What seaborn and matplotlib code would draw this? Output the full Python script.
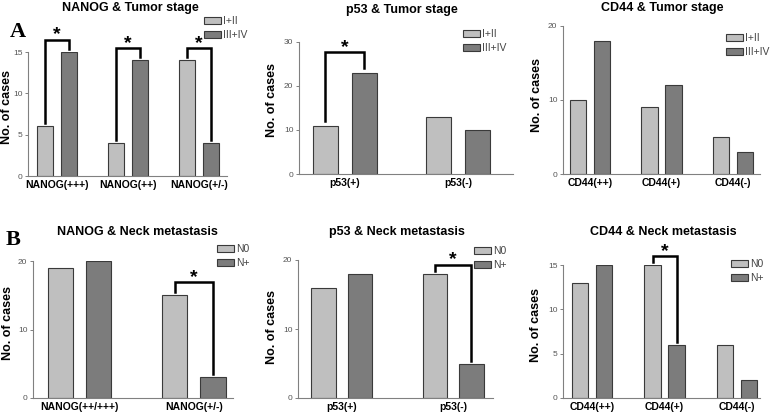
import matplotlib
matplotlib.use("Agg")
import matplotlib.pyplot as plt
from matplotlib.patches import Patch
import seaborn as sns
import pandas as pd

# ---------------- data ----------------
nanog_stage_cats = ["NANOG(+++)", "NANOG(++)", "NANOG(+/-)"]
nanog_stage_early = [6, 4, 14]
nanog_stage_late = [15, 14, 4]

p53_stage_cats = ["p53(+)", "p53(-)"]
p53_stage_early = [11, 13]
p53_stage_late = [23, 10]

cd44_stage_cats = ["CD44(++)", "CD44(+)", "CD44(-)"]
cd44_stage_early = [10, 9, 5]
cd44_stage_late = [18, 12, 3]

nanog_neck_cats = ["NANOG(++/+++)", "NANOG(+/-)"]
nanog_neck_n0 = [19, 15]
nanog_neck_np = [20, 3]

p53_neck_cats = ["p53(+)", "p53(-)"]
p53_neck_n0 = [16, 18]
p53_neck_np = [18, 5]

cd44_neck_cats = ["CD44(++)", "CD44(+)", "CD44(-)"]
cd44_neck_n0 = [13, 15, 6]
cd44_neck_np = [15, 6, 2]

stage_labels = ["I+II", "III+IV"]
neck_labels = ["N0", "N+"]

titles = ["NANOG & Tumor stage", "p53 & Tumor stage", "CD44 & Tumor stage",
          "NANOG & Neck metastasis", "p53 & Neck metastasis", "CD44 & Neck metastasis"]
y_tick_sets = [[0, 5, 10, 15], [0, 10, 20, 30], [0, 10, 20],
               [0, 10, 20], [0, 10, 20], [0, 5, 10, 15]]
significant = [[0, 1, 2], [0], [], [1], [1], [1]]
ylabel = "No. of cases"

# ---------------- style ----------------
W, H = 778, 417
LIGHT, DARK, EDGE = "#bfbfbf", "#7c7c7c", "#3a3a3a"
AXCOL = "#808080"
FONT = ["Liberation Sans", "DejaVu Sans"]
plt.rcParams["font.family"] = FONT

fig = plt.figure(figsize=(W / 100, H / 100), dpi=100)

def px_axes(l, r, t, b):
    return fig.add_axes([l / W, 1 - b / H, (r - l) / W, (b - t) / H])

panels = [
    dict(cats=nanog_stage_cats, a=nanog_stage_early, b=nanog_stage_late, leg=stage_labels,
         box=(28, 227, 52, 176), xlim=(-0.408, 2.394), width=0.676, gap=0.333,
         rise=1.45, drop=0.4, title=(130, 7.5), ylab=(7, 107), legpos=(204, 16)),
    dict(cats=p53_stage_cats, a=p53_stage_early, b=p53_stage_late, leg=stage_labels,
         box=(299, 513, 42, 174), xlim=(-0.407, 1.487), width=0.69, gap=0.36,
         rise=4.7, drop=1.0, title=(402, 10), ylab=(272, 100), legpos=(463, 29)),
    dict(cats=cd44_stage_cats, a=cd44_stage_early, b=cd44_stage_late, leg=stage_labels,
         box=(563, 760, 26, 174), xlim=(-0.378, 2.378), width=0.671, gap=0.31,
         rise=1.5, drop=0.4, title=(662, 8), ylab=(537, 95), legpos=(726, 33)),
    dict(cats=nanog_neck_cats, a=nanog_neck_n0, b=nanog_neck_np, leg=neck_labels,
         box=(33, 233, 261, 398), xlim=(-0.408, 1.344), width=0.667, gap=0.33,
         rise=1.9, drop=0.45, title=(137, 232), ylab=(8, 323), legpos=(217, 244)),
    dict(cats=p53_neck_cats, a=p53_neck_n0, b=p53_neck_np, leg=neck_labels,
         box=(298, 493, 260, 398), xlim=(-0.396, 1.36), width=0.658, gap=0.33,
         rise=1.3, drop=0.4, title=(397, 232), ylab=(272, 327), legpos=(474, 246)),
    dict(cats=cd44_neck_cats, a=cd44_neck_n0, b=cd44_neck_np, leg=neck_labels,
         box=(563, 760, 265, 398), xlim=(-0.4, 2.317), width=0.662, gap=0.33,
         rise=1.0, drop=0.3, title=(663, 232), ylab=(536, 325), legpos=(731, 259)),
]

for k, p in enumerate(panels):
    ax = px_axes(*p["box"])
    df = pd.DataFrame({
        "cat": p["cats"] * 2,
        "grp": [p["leg"][0]] * len(p["cats"]) + [p["leg"][1]] * len(p["cats"]),
        "val": list(p["a"]) + list(p["b"]),
    })
    sns.barplot(data=df, x="cat", y="val", hue="grp", order=p["cats"],
                hue_order=p["leg"], palette=[LIGHT, DARK], width=p["width"],
                gap=p["gap"], edgecolor=EDGE, linewidth=0.8, legend=False, ax=ax,
                saturation=1)
    ticks = y_tick_sets[k]
    ax.set_ylim(0, ticks[-1])
    ax.set_yticks(ticks)
    ax.set_xlim(*p["xlim"])
    ax.set_xlabel("")
    ax.set_ylabel("")
    for s in ["top", "right"]:
        ax.spines[s].set_visible(False)
    for s in ["left", "bottom"]:
        ax.spines[s].set_color(AXCOL)
        ax.spines[s].set_linewidth(0.8)
    ax.tick_params(axis="y", length=2.5, width=0.7, color=AXCOL, labelsize=6,
                   labelcolor="#555555", pad=1.5)
    ax.tick_params(axis="x", length=0, pad=3, labelsize=7.5)
    for t in ax.get_xticklabels():
        t.set_fontweight("bold")
    ax.set_facecolor("white")

    # significance brackets
    off = p["width"] / 4
    for i in significant[k]:
        va, vb = p["a"][i], p["b"][i]
        level = max(va, vb) + p["rise"]
        ax.plot([i - off, i - off, i + off, i + off],
                [va + p["drop"], level, level, vb + p["drop"]],
                color="black", lw=1.8, clip_on=False, solid_joinstyle="miter")
        ax.annotate("*", (i, level), xytext=(0, -2.5), textcoords="offset points",
                    ha="center", va="bottom", fontsize=14, fontweight="bold",
                    annotation_clip=False)

    # legend
    handles = [Patch(facecolor=LIGHT, edgecolor=EDGE, linewidth=0.8),
               Patch(facecolor=DARK, edgecolor=EDGE, linewidth=0.8)]
    lx, ly = p["legpos"]
    fig.legend(handles, p["leg"], loc="upper left",
               bbox_to_anchor=(lx / W, 1 - ly / H), frameon=False,
               fontsize=7.5, handlelength=1.6, handleheight=0.6,
               handletextpad=0.2, labelspacing=0.4, borderpad=0,
               borderaxespad=0, labelcolor="#444444")

    # title and y label
    tx, ty = p["title"]
    fig.text(tx / W, 1 - ty / H, titles[k], ha="center", va="center",
             fontsize=9, fontweight="bold")
    yx, yy = p["ylab"]
    fig.text(yx / W, 1 - yy / H, ylabel, ha="center", va="center",
             rotation=90, fontsize=9, fontweight="bold")

fig.text(18 / W, 1 - 32 / H, "A", ha="center", va="center", fontsize=16,
         fontweight="bold", family="Liberation Serif")
fig.text(13 / W, 1 - 240 / H, "B", ha="center", va="center", fontsize=16,
         fontweight="bold", family="Liberation Serif")

fig.savefig("out.png", dpi=100, facecolor="white")
